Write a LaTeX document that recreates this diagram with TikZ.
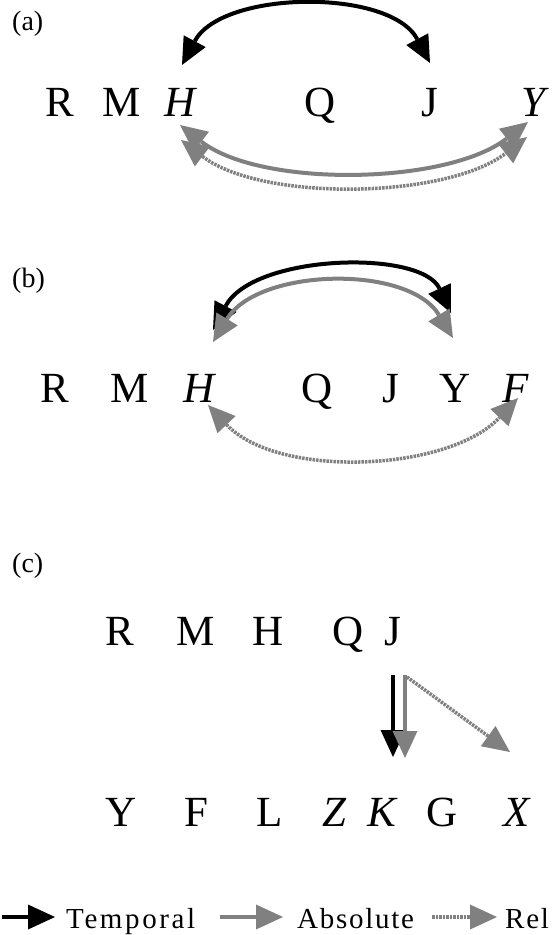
\documentclass[tikz,border=0pt]{standalone}
\usepackage{fontspec}
\setmainfont{Liberation Serif}
\usetikzlibrary{arrows.meta}

\begin{document}
\begin{tikzpicture}[x=1pt, y=-1pt,
  letter/.style={font=\fontsize{43}{50}\selectfont, inner sep=0pt, anchor=base},
  panel/.style={font=\fontsize{28}{32}\selectfont, inner sep=0pt, anchor=base west},
  keytext/.style={font=\fontsize{29}{32}\selectfont\addfontfeature{LetterSpace=6}, inner sep=0pt, anchor=base west},
  tmparrow/.style={line width=4pt, black},
  absarrow/.style={line width=4pt, gray},
  relarrow/.style={line width=3.5pt, gray, dash pattern=on 2.5pt off 1pt},
  >={Triangle[length=27pt,width=25pt,line width=0pt]}
]
\useasboundingbox (0,0) rectangle (555,935);

% (a)
\node[panel] (la) at (12,30) {(a)};
\node[letter] (aR) at (60,116) {R};
\node[letter] (aM) at (122,116) {M};
\node[letter] (aH) at (181,116) {\textit{H}};
\node[letter] (aQ) at (320,116) {Q};
\node[letter] (aJ) at (430,116) {J};
\node[letter] (aY) at (535,116) {\textit{Y}};

\draw[tmparrow,<->] ([shift={(1,-51)}]aH.base) .. controls +(40,-75) and +(-40,-75) .. ([shift={(0,-53)}]aJ.base);
\draw[absarrow,<->] ([shift={(-1,9)}]aH.base) .. controls +(81,63) and +(-81,63) .. ([shift={(-7,6)}]aY.base);
\draw[relarrow,<->] ([shift={(0,24)}]aH.base) .. controls +(81,62) and +(-81,62) .. ([shift={(-8,21)}]aY.base);

% (b)
\node[panel] (lb) at (12,287) {(b)};
\node[letter] (bR) at (55,402) {R};
\node[letter] (bM) at (130,402) {M};
\node[letter] (bH) at (200,402) {\textit{H}};
\node[letter] (bQ) at (317,402) {Q};
\node[letter] (bJ) at (391,402) {J};
\node[letter] (bY) at (455,402) {Y};
\node[letter] (bF) at (516,402) {\textit{F}};

\draw[tmparrow,<->] ([shift={(13,-72)}]bH.base) .. controls +(40,-76) and +(-30,-64) .. ([shift={(-4,-89)}]bY.base);
\draw[absarrow,<->] ([shift={(13,-60)}]bH.base) .. controls +(45,-74) and +(-45,-74) .. ([shift={(-2,-64)}]bY.base);
\draw[relarrow,<->] ([shift={(8,3)}]bH.base) .. controls +(70,74) and +(-70,74) .. ([shift={(2,-4)}]bF.base);

% (c)
\node[panel] (lc) at (12,572) {(c)};
\node[letter] (cR) at (120,645) {R};
\node[letter] (cM) at (196,645) {M};
\node[letter] (cH) at (268,645) {H};
\node[letter] (cQ) at (348,645) {Q};
\node[letter] (cJ) at (393,645) {J};

\node[letter] (cY) at (121,826) {Y};
\node[letter] (cF) at (196,826) {F};
\node[letter] (cL) at (270,826) {L};
\node[letter] (cZ) at (335,826) {\textit{Z}};
\node[letter] (cK) at (383,826) {\textit{K}};
\node[letter] (cG) at (442,826) {G};
\node[letter] (cX) at (517,826) {\textit{X}};

\draw[tmparrow,->] ([shift={(0,30)}]cJ.base) -- ([shift={(10,-69)}]cK.base);
\draw[absarrow,->] ([shift={(12,30)}]cJ.base) -- ([shift={(22,-68)}]cK.base);
\draw[relarrow,->] ([shift={(14,32)}]cJ.base) -- ([shift={(-7,-74)}]cX.base);

% legend
\node[keytext] (kTemp) at (66,928) {\addfontfeature{LetterSpace=9}Temporal};
\node[keytext] (kAbs) at (297,928) {Absolute};
\node[keytext] (kRel) at (505,928) {Rel};
\coordinate (k1) at (2,917);
\coordinate (k2) at (220,917);
\coordinate (k3) at (432,917);
\draw[tmparrow,->,shorten >=11pt] (k1) -- (k1 -| kTemp.west);
\draw[absarrow,->,shorten >=14pt] (k2) -- (k2 -| kAbs.west);
\draw[relarrow,->,shorten >=8pt] (k3) -- (k3 -| kRel.west);
\end{tikzpicture}
\end{document}
